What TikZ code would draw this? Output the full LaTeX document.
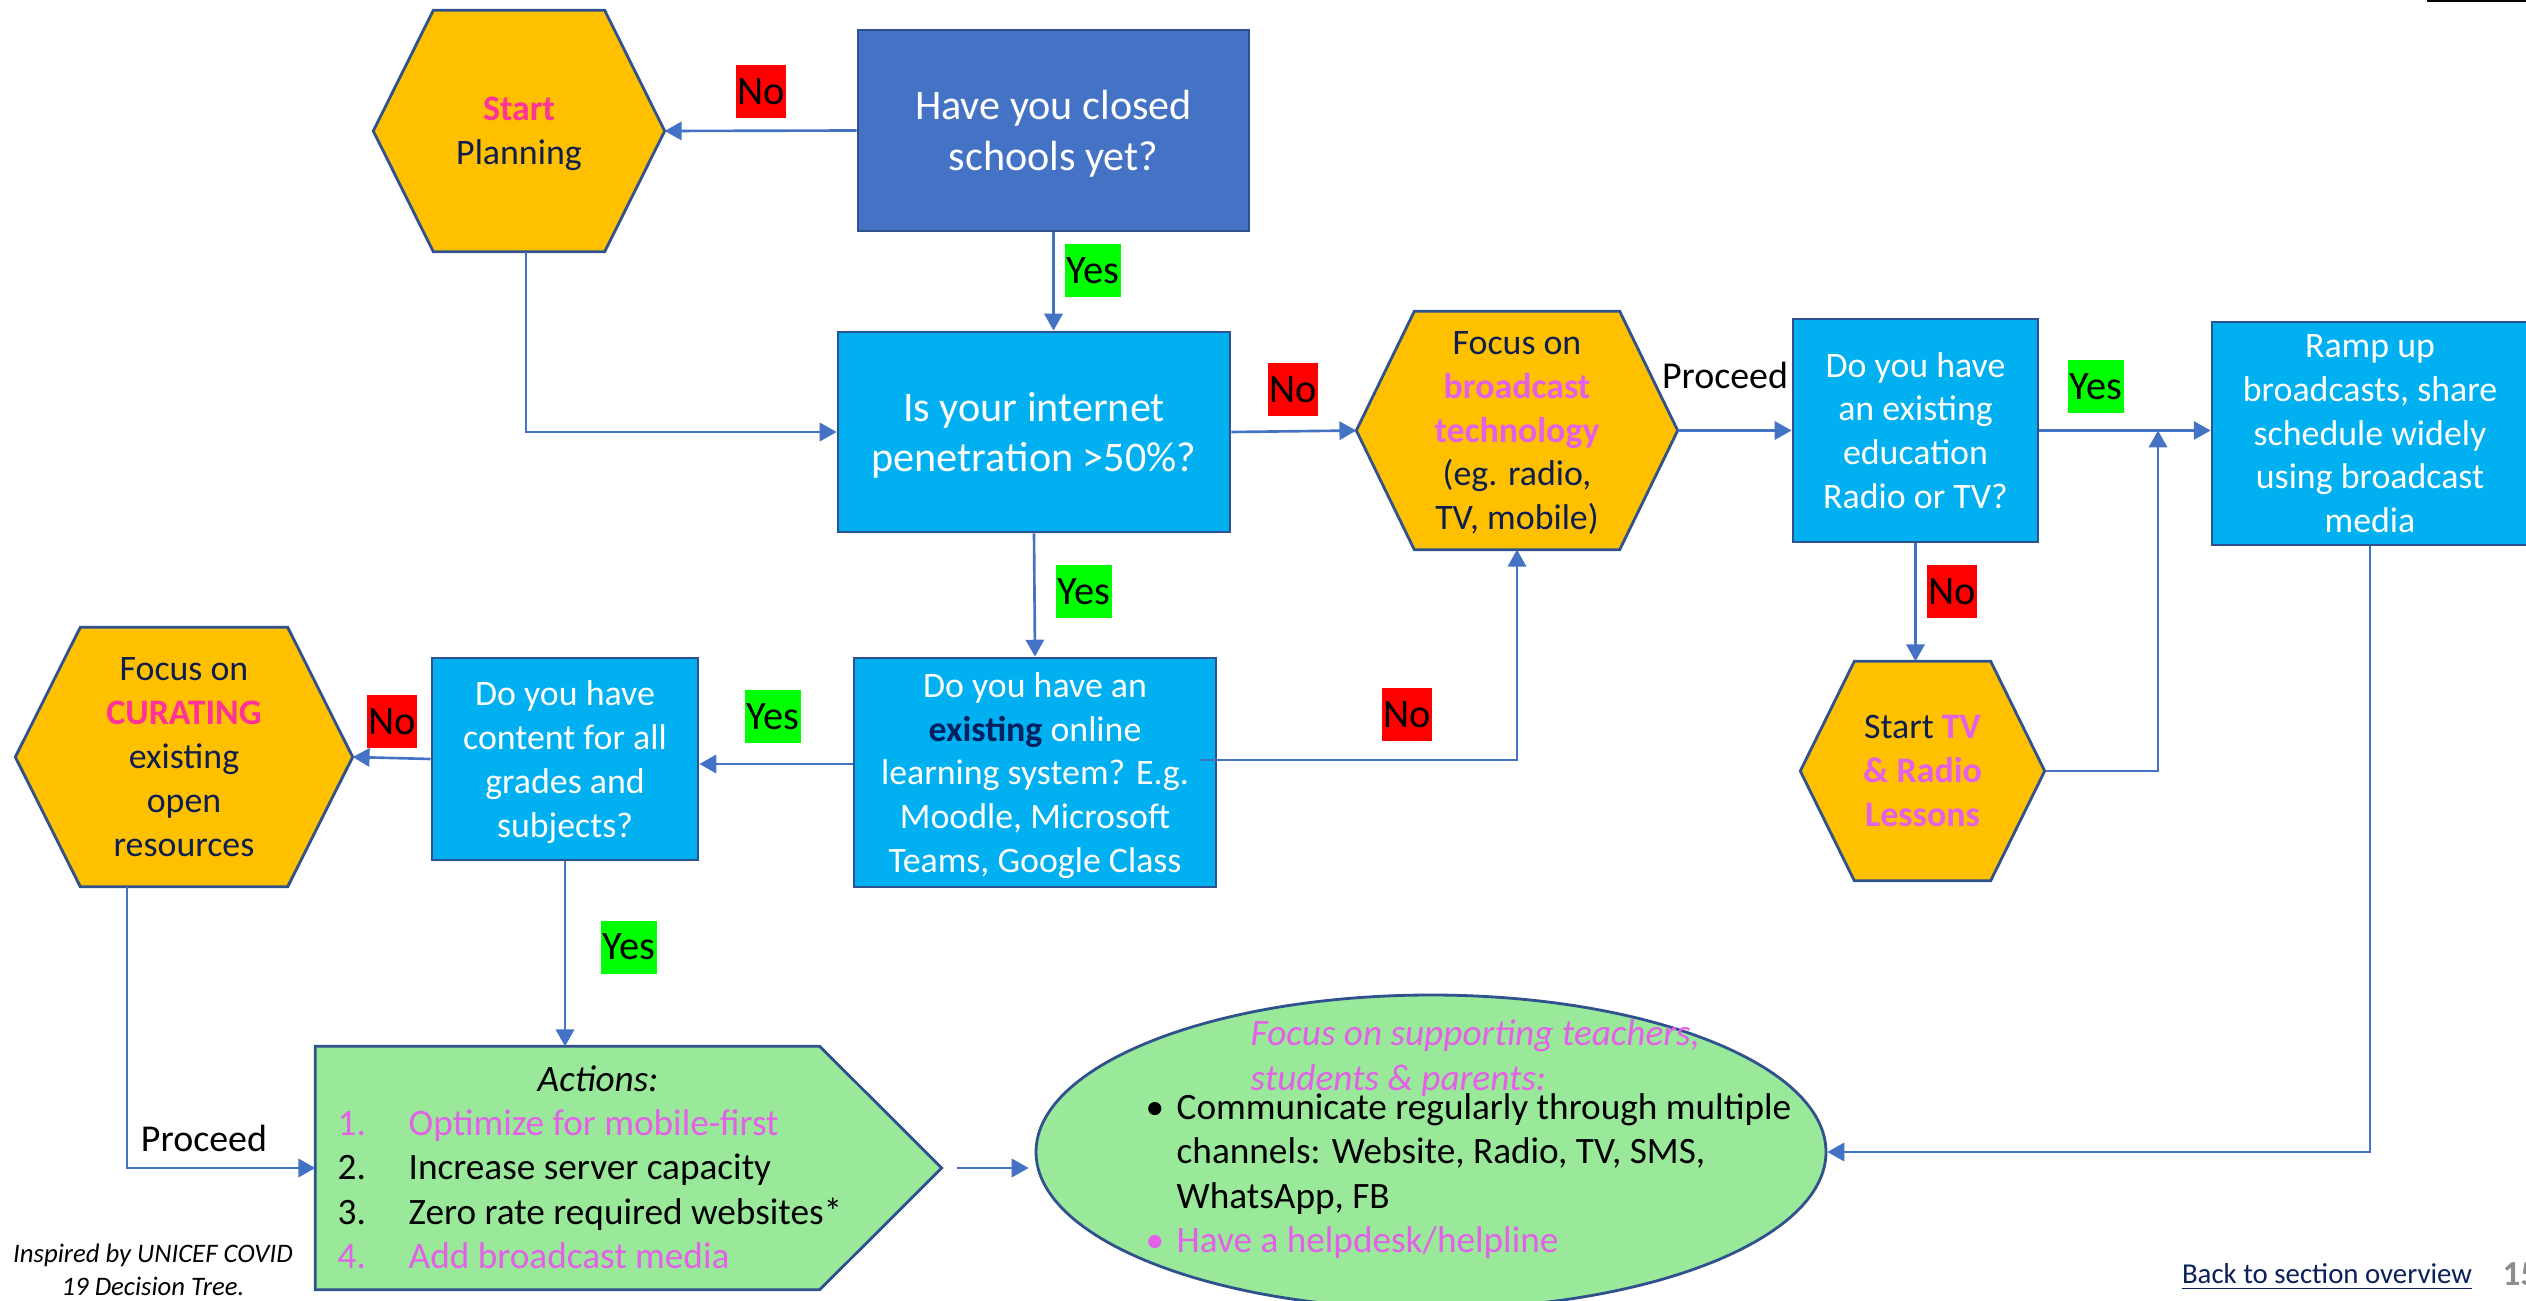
\documentclass[tikz,border=0pt]{standalone}
\usepackage{fontspec}
\setmainfont{Carlito}
\usetikzlibrary{arrows.meta,shapes.geometric,backgrounds}

\definecolor{qdark}{HTML}{4472C4}
\definecolor{qcyan}{HTML}{00B0F0}
\definecolor{hexgold}{HTML}{FFC000}
\definecolor{edgeblue}{HTML}{2F528F}
\definecolor{flowblue}{HTML}{4472C4}
\definecolor{mintgreen}{HTML}{9AE89A}
\definecolor{hotpink}{HTML}{FF3399}
\definecolor{orchid}{HTML}{E460E8}
\definecolor{navytext}{HTML}{0E1E4E}
\definecolor{navybold}{HTML}{002060}
\definecolor{labelgreen}{HTML}{00FF00}
\definecolor{labelred}{HTML}{FF0000}
\definecolor{backnavy}{HTML}{0B1F5B}
\definecolor{pagegray}{HTML}{8C8C8C}

\newcommand{\fsmain}{\fontsize{10.2}{12.5}\selectfont}
\newcommand{\fslist}{\fontsize{10.6}{12.6}\selectfont}
\newcommand{\fsbig}{\fontsize{12}{14.5}\selectfont}
\newcommand{\fslbl}{\fontsize{11.5}{13}\selectfont}
\newcommand{\fsfoot}{\fontsize{7.6}{9.4}\selectfont}
\newcommand{\fsback}{\fontsize{8.2}{10}\selectfont}

\begin{document}
\begin{tikzpicture}[x=0.1mm, y=-0.1mm,
    qbox/.style={draw=edgeblue, line width=0.8pt, fill=qcyan, text=white, align=center, font=\fsmain, inner sep=0pt, text depth=0pt},
    hexa/.style={align=center, font=\fsmain, text=navytext, inner sep=0pt, text depth=0pt},
    arrowline/.style={draw=flowblue, line width=0.75pt, -{Triangle[length=4.8pt,width=5.2pt]}},
    nolbl/.style={fill=labelred, text=black, font=\fslbl, inner sep=0pt, minimum width=5mm, minimum height=5.3mm},
    yeslbl/.style={fill=labelgreen, text=black, font=\fslbl, inner sep=0pt, minimum width=5.6mm, minimum height=5.3mm},
    plainlbl/.style={text=black, font=\fontsize{10.8}{13}\selectfont, inner sep=0pt}]

  \useasboundingbox (0,0) rectangle (2526,1301);

  % question boxes
  \node[qbox, fill=qdark, font=\fsbig, minimum width=39.1mm, minimum height=20.1mm] (closed) at (1053.5,130.5) {Have you closed\\schools yet?};
  \node[qbox, font=\fsbig, minimum width=39.2mm, minimum height=20mm] (internet) at (1034,432) {Is your internet\\penetration >50\%?};
  \node[qbox, minimum width=24.5mm, minimum height=22.3mm] (radiotv) at (1915.5,430.5) {Do you have\\an existing\\education\\Radio or TV?};
  \node[qbox, minimum width=31.6mm, minimum height=22.3mm] (ramp) at (2370,433.5) {Ramp up\\broadcasts, share\\schedule widely\\using broadcast\\media};
  \node[qbox, minimum width=36.2mm, minimum height=22.9mm] (online) at (1035,772.5) {Do you have an\\\textcolor{navybold}{\textbf{existing}} online\\learning system? E.g.\\Moodle, Microsoft\\Teams, Google Class};
  \node[qbox, minimum width=26.6mm, minimum height=20.2mm] (content) at (565,759) {Do you have\\content for all\\grades and\\subjects?};

  % hexagon nodes (outline drawn below)
  \node[hexa, minimum width=29mm, minimum height=24mm] (start) at (519,131) {\textcolor{hotpink}{\textbf{Start}}\\Planning};
  \node[hexa, minimum width=32mm, minimum height=23.7mm] (bcast) at (1517,430.5) {Focus on\\\textcolor{orchid}{\textbf{broadcast}}\\\textcolor{orchid}{\textbf{technology}}\\(eg. radio,\\TV, mobile)};
  \node[hexa, minimum width=24.3mm, minimum height=21.8mm] (tvr) at (1922.5,771) {Start \textcolor{orchid}{\textbf{TV}}\\\textcolor{orchid}{\textbf{\& Radio}}\\\textcolor{orchid}{\textbf{Lessons}}};
  \node[hexa, minimum width=33.6mm, minimum height=25.8mm] (curate) at (184,757) {Focus on\\\textcolor{hotpink}{\textbf{CURATING}}\\existing\\open\\resources};

  % actions and support
  \node[inner sep=0pt, minimum width=62.5mm, minimum height=24.2mm] (actions) at (628.5,1168) {};
  \node[ellipse, draw=edgeblue, line width=0.8pt, fill=mintgreen, inner sep=0pt, minimum width=79mm, minimum height=31.4mm] (support) at (1431,1152) {};

  \begin{scope}[on background layer]
    \foreach \n/\d in {start/6, bcast/5.8, tvr/5.4, curate/6.5} {
      \draw[edgeblue, line width=0.8pt, fill=hexgold] (\n.west) -- ([xshift=\d mm]\n.north west) -- ([xshift=-\d mm]\n.north east)
        -- (\n.east) -- ([xshift=-\d mm]\n.south east) -- ([xshift=\d mm]\n.south west) -- cycle;
    }
    \draw[edgeblue, line width=0.8pt, fill=mintgreen] (actions.north west) -- ([xshift=-12.2mm]actions.north east) -- (actions.east)
      -- ([xshift=-12.2mm]actions.south east) -- (actions.south west) -- cycle;
  \end{scope}

  \node[font=\fslist, anchor=west, inner sep=0pt] (actlist) at (337,1171) {%
    \begin{tabular}{@{}p{7.1mm}@{}l@{}}
      \multicolumn{2}{@{}l@{}}{\hspace*{20mm}\textit{Actions:}}\\
      \textcolor{orchid}{1.} & \textcolor{orchid}{Optimize for mobile-first}\\
      2. & Increase server capacity\\
      3. & Zero rate required websites*\\
      \textcolor{orchid}{4.} & \textcolor{orchid}{Add broadcast media}
    \end{tabular}};
  \node[font=\fslist\itshape, text=orchid, align=left, anchor=west, inner sep=0pt] (suphead) at (1250,1058) {Focus on supporting teachers,\\students \& parents:};
  \node[font=\fslist, anchor=west, inner sep=0pt] (suplist) at (1145,1177) {%
    \begin{tabular}{@{}p{3.1mm}@{}l@{}}
      \textbullet & Communicate regularly through multiple\\
      & channels: Website, Radio, TV, SMS,\\
      & WhatsApp, FB\\
      \textcolor{orchid}{\textbullet} & \textcolor{orchid}{Have a helpdesk/helpline}
    \end{tabular}};

  % yes / no tags
  \foreach \nm/\px/\py in {no1/761/91.5, no2/1293/389.5, no3/1952/591.5, no4/1407/714.5, no5/392/721.5}
    \node[nolbl] (\nm) at (\px,\py) {No};
  \foreach \nm/\px/\py in {yes1/1093/270.5, yes2/1084/591.5, yes3/2096/386.5, yes4/773/716.5, yes5/629/947}
    \node[yeslbl] (\nm) at (\px,\py) {Yes};
  \node[plainlbl] (proceed1) at (1725,375) {Proceed};
  \node[plainlbl] (proceed2) at (204,1138) {Proceed};

  % connectors
  \draw[arrowline] (closed.west) -- (start.east);
  \draw[arrowline] (closed.south) -- (closed.south |- internet.north);
  \draw[arrowline] ([xshift=0.7mm]start.south) |- (internet.west);
  \draw[arrowline] (internet.east) -- (bcast.west);
  \draw[arrowline] (bcast.east) -- (radiotv.west);
  \coordinate (join) at (2158,430.5);
  \draw[arrowline] (radiotv.east) -- (radiotv.east -| ramp.west);
  \draw[arrowline] (radiotv.south) -- (radiotv.south |- tvr.north);
  \draw[arrowline] (tvr.east) -| (join);
  \draw[arrowline] (ramp.south) |- (support.east);
  \draw[arrowline] (internet.south) -- (online.north);
  \draw[arrowline] ([xshift=-1.8mm,yshift=1.25mm]online.east) -| (bcast.south);
  \draw[arrowline] ([yshift=0.85mm]online.west) -- ([yshift=0.85mm]online.west -| content.east);
  \draw[arrowline] (content.west) -- (curate.east);
  \draw[arrowline] (content.south) -- (content.south |- actions.north);
  \draw[arrowline] ([xshift=-5.7mm]curate.south) |- (actions.west);
  \draw[arrowline, shorten <=1.5mm, shorten >=0.6mm] (actions.east) -- (actions.east -| support.west);

  % footer
  \node[font=\fsfoot\itshape, align=center, inner sep=0pt] (credit) at (153,1270) {Inspired by UNICEF COVID\\19 Decision Tree.};
  \node[font=\fsback, text=backnavy, inner sep=0pt] (backlink) at (2327,1277) {\underline{Back to section overview}};
  \node[font=\fontsize{10}{12}\selectfont\bfseries, text=pagegray, anchor=west, inner sep=0pt] (pagenum) at (2502,1274) {15};
  \fill[black] (2427,0) rectangle (2526,2.5);
\end{tikzpicture}
\end{document}
